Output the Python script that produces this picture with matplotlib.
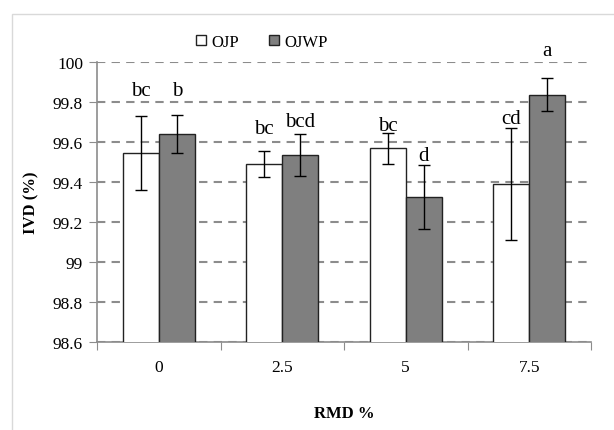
import matplotlib.pyplot as plt
import numpy as np
from matplotlib.patches import Rectangle

plt.rcParams['font.family'] = ['Liberation Serif', 'DejaVu Serif']

rmd = ['0', '2.5', '5', '7.5']
ojp = [99.546, 99.488, 99.568, 99.388]
ojp_err = [0.186, 0.065, 0.079, 0.28]
ojwp = [99.64, 99.535, 99.323, 99.837]
ojwp_err = [0.094, 0.107, 0.16, 0.083]
ojp_letters = ['bc', 'bc', 'bc', 'cd']
ojwp_letters = ['b', 'bcd', 'd', 'a']
ojp_letter_y = [99.855, 99.665, 99.68, 99.715]
ojwp_letter_y = [99.855, 99.705, 99.53, 100.055]

fig = plt.figure(figsize=(6.14, 4.31), dpi=100)
ax = fig.add_axes([97/614, 1 - 343/431, 494/614, 280/431])

# light frame around the chart area
fig.add_artist(Rectangle((12/614, -0.1), 1.2, 1 - 15/431 + 0.1, transform=fig.transFigure,
                         fill=False, edgecolor='#d9d9d9', linewidth=1))

x = np.arange(len(rmd))
w = 0.291
ekw = dict(ecolor='black', elinewidth=1, capsize=4, capthick=1)
ax.bar(x - w/2, ojp, w, color='white', edgecolor='#222222', linewidth=1,
       yerr=ojp_err, error_kw=ekw, label='OJP', zorder=3)
ax.bar(x + w/2, ojwp, w, color='#7f7f7f', edgecolor='#222222', linewidth=1,
       yerr=ojwp_err, error_kw=ekw, label='OJWP', zorder=3)

for i in range(len(rmd)):
    ax.text(x[i] - w/2, ojp_letter_y[i], ojp_letters[i], ha='center', va='center',
            fontsize=15, zorder=4)
    ax.text(x[i] + w/2, ojwp_letter_y[i], ojwp_letters[i], ha='center', va='center',
            fontsize=15, zorder=4, clip_on=False)

ax.set_ylim(98.6, 100)
ax.set_yticks(np.arange(98.6, 100.01, 0.2))
ax.set_yticklabels(['98.6', '98.8', '99', '99.2', '99.4', '99.6', '99.8', '100'])
ax.set_xlim(-0.5, 3.5)
ax.set_xticks(np.arange(-0.5, 3.6, 1))
ax.set_xticklabels([])
ax.set_xticks(x, minor=True)
ax.set_xticklabels(rmd, minor=True)
ax.tick_params(axis='x', which='minor', length=0, pad=12, labelsize=12.5)
ax.tick_params(axis='x', which='major', length=6, color='#8c8c8c', direction='out')
ax.tick_params(axis='y', length=6, color='#8c8c8c', direction='out', labelsize=12.5, pad=4)

ax.yaxis.grid(True, linestyle=(0, (4, 3)), color='#8c8c8c', linewidth=1.5, zorder=0)
ax.set_axisbelow(True)
for s in ['top', 'right']:
    ax.spines[s].set_visible(False)
for s in ['left', 'bottom']:
    ax.spines[s].set_color('#8c8c8c')
    ax.spines[s].set_linewidth(1.2)

ax.set_ylabel('IVD (%)', fontweight='bold', fontsize=12, labelpad=10)
ax.set_xlabel('RMD %', fontweight='bold', fontsize=12, labelpad=22)

fig.legend(loc='center', bbox_to_anchor=(262/614, 1 - 43/431), ncol=2, frameon=False,
           fontsize=12, handlelength=0.6, handleheight=0.6, handletextpad=0.3,
           columnspacing=1.8)

fig.savefig('out.png', dpi=100, facecolor='white')
